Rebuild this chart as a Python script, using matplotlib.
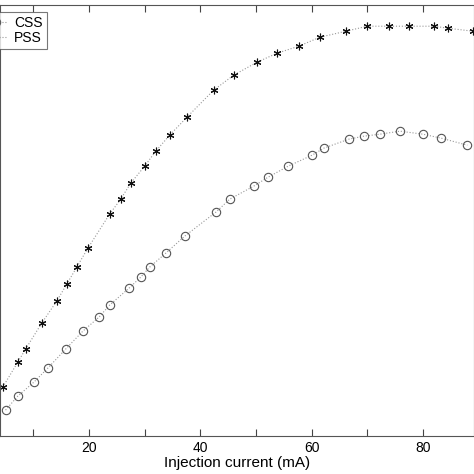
import matplotlib
matplotlib.use("Agg")
import matplotlib.pyplot as plt

plt.rcParams["font.family"] = ["Liberation Sans", "DejaVu Sans"]

# PSS (stars)
pss_x = [4.5, 7.2, 8.6, 11.5, 14.2, 16.0, 17.8, 19.8, 23.7, 25.7, 27.5, 30.0, 32.0, 34.5,
         37.6, 42.4, 46.0, 50.2, 53.8, 57.7, 61.5, 66.2, 70.0, 73.9, 77.5, 82.0, 84.5, 89.0]
pss_y = [49, 74, 87, 113, 135, 152, 169, 188, 222, 237, 253, 270, 285, 301,
         319, 346, 361, 374, 383, 390, 399, 405, 410, 410, 410, 410, 408, 405]

# CSS (circles)
css_x = [5.0, 7.2, 10.1, 12.6, 15.8, 18.9, 21.8, 23.7, 27.2, 29.3, 30.9, 33.8, 37.2, 42.8,
         45.3, 49.6, 52.2, 55.8, 60.1, 62.2, 66.7, 69.4, 72.3, 75.9, 80.0, 83.3, 88.0]
css_y = [26, 40, 54, 68, 87, 105, 119, 131, 148, 159, 169, 183, 200, 224,
         237, 250, 259, 270, 281, 288, 297, 300, 302, 305, 302, 298, 291]

fig = plt.figure(figsize=(4.74, 4.74), dpi=100)
ax = fig.add_axes([0.0, 0.08, 1.0, 0.909])

ax.plot(css_x, css_y, linestyle=":", color="#999999", linewidth=0.8,
        marker="o", markersize=6, markerfacecolor="none",
        markeredgecolor="#555555", markeredgewidth=0.8, label="CSS")
ax.plot(pss_x, pss_y, linestyle=":", color="#999999", linewidth=0.8,
        marker=(6, 2, 0), markersize=5.5, markeredgecolor="#111111",
        markeredgewidth=0.8, label="PSS")

ax.set_xlim(4, 89.2)
ax.set_ylim(0, 431)
ax.set_xticks(range(10, 90, 10))
ax.set_xticklabels(["", "20", "", "40", "", "60", "", "80"])
ax.set_yticks([])
ax.tick_params(axis="x", direction="in", length=5, labelsize=10, top=True, color="#444444")
for s in ax.spines.values():
    s.set_color("#555555")
    s.set_linewidth(0.8)
ax.set_xlabel("Injection current (mA)", fontsize=11, labelpad=1)

leg = ax.legend(loc="upper left", bbox_to_anchor=(-0.04, 0.985), fontsize=10,
                frameon=True, fancybox=False, handlelength=1.5, handletextpad=0.6,
                borderpad=0.3, labelspacing=0.1, borderaxespad=0)
leg.get_frame().set_edgecolor("#555555")
leg.get_frame().set_linewidth(0.8)

fig.savefig("out.png", dpi=100, facecolor="white")
